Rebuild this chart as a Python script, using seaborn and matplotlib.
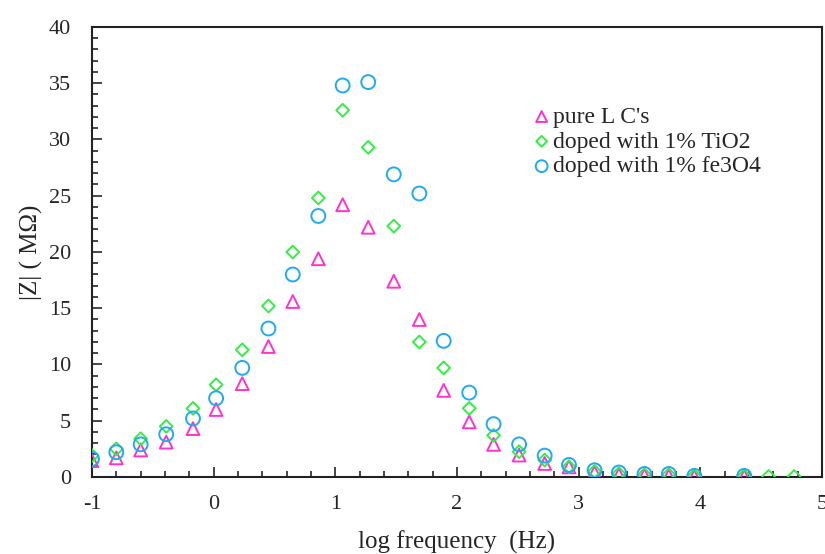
import matplotlib
matplotlib.use("Agg")
import matplotlib.pyplot as plt
import seaborn as sns
from matplotlib.ticker import MultipleLocator

# log frequency (Hz) values
log_freq = [-1.0, -0.8, -0.6, -0.39, -0.17, 0.02, 0.235, 0.45, 0.65, 0.86,
            1.06, 1.27, 1.48, 1.69, 1.89, 2.10, 2.30, 2.51, 2.72, 2.92,
            3.13, 3.33, 3.54, 3.74, 3.95, 4.36, 4.56, 4.77]

# |Z| (MOhm) per sample
z_pure = [1.45, 1.7, 2.4, 3.1, 4.3, 6.0, 8.3, 11.6, 15.6, 19.4,
          24.2, 22.2, 17.4, 14.0, 7.7, 4.9, 2.9, 1.95, 1.2, 0.9,
          0.4, 0.2, 0.15, 0.1, 0.05, 0.05]
z_tio2 = [1.9, 2.5, 3.4, 4.5, 6.1, 8.2, 11.3, 15.2, 20.0, 24.8,
          32.6, 29.3, 22.3, 12.0, 9.7, 6.1, 3.7, 2.25, 1.5, 0.9,
          0.5, 0.3, 0.2, 0.2, 0.1, 0.1, 0.05, 0.05]
z_fe3o4 = [1.6, 2.2, 2.9, 3.8, 5.2, 7.0, 9.7, 13.2, 18.0, 23.2,
           34.8, 35.1, 26.9, 25.2, 12.1, 7.5, 4.7, 2.9, 1.9, 1.07,
           0.6, 0.4, 0.27, 0.27, 0.1, 0.1]

etiquetas = ["pure L C's", "doped with 1% TiO2", "doped with 1% fe3O4"]
cores = ["#ff33cc", "#33ee44", "#22aaee"]
marcadores = ["^", "D", "o"]
tamanhos = [85, 42, 100]

sns.set_style("ticks")
plt.rcParams["font.family"] = ["Liberation Serif", "DejaVu Serif"]
plt.rcParams["axes.unicode_minus"] = False

fig = plt.figure(figsize=(8.25, 5.54), dpi=100)
ax = fig.add_axes([0.1115, 0.139, 0.885, 0.8123])

series = [z_pure, z_tio2, z_fe3o4]
for valores, rotulo, cor, marc, tam in zip(series, etiquetas, cores, marcadores, tamanhos):
    sns.scatterplot(
        x=log_freq[:len(valores)],
        y=valores,
        marker=marc,
        s=tam,
        facecolor="none",
        edgecolor=cor,
        linewidth=1.4,
        label=rotulo,
        ax=ax,
        zorder=3,
    )

ax.set_xlim(-1, 5)
ax.set_ylim(0, 40)
ax.xaxis.set_major_locator(MultipleLocator(1))
ax.xaxis.set_minor_locator(MultipleLocator(0.2))
ax.yaxis.set_major_locator(MultipleLocator(5))
ax.yaxis.set_minor_locator(MultipleLocator(1))
ax.tick_params(which="both", direction="in", top=False, right=False,
               labelsize=16, width=1.2)
ax.tick_params(axis="x", which="major", pad=13)
ax.tick_params(axis="y", which="major", pad=15)
ax.tick_params(which="major", length=7)
ax.tick_params(which="minor", length=4)
for lado in ax.spines.values():
    lado.set_visible(True)
    lado.set_linewidth(1.5)
    lado.set_color("#222222")

ax.set_xlabel("log frequency  (Hz)", fontsize=18, labelpad=12)
ax.set_ylabel("|Z| ( MΩ)", fontsize=18, labelpad=4)

ax.legend(loc="upper left", bbox_to_anchor=(0.59, 0.845), frameon=False,
          fontsize=17, handletextpad=0.1, handlelength=0.8, markerscale=0.85,
          labelspacing=0.14, borderaxespad=0)

fig.savefig("out.png", dpi=100)
